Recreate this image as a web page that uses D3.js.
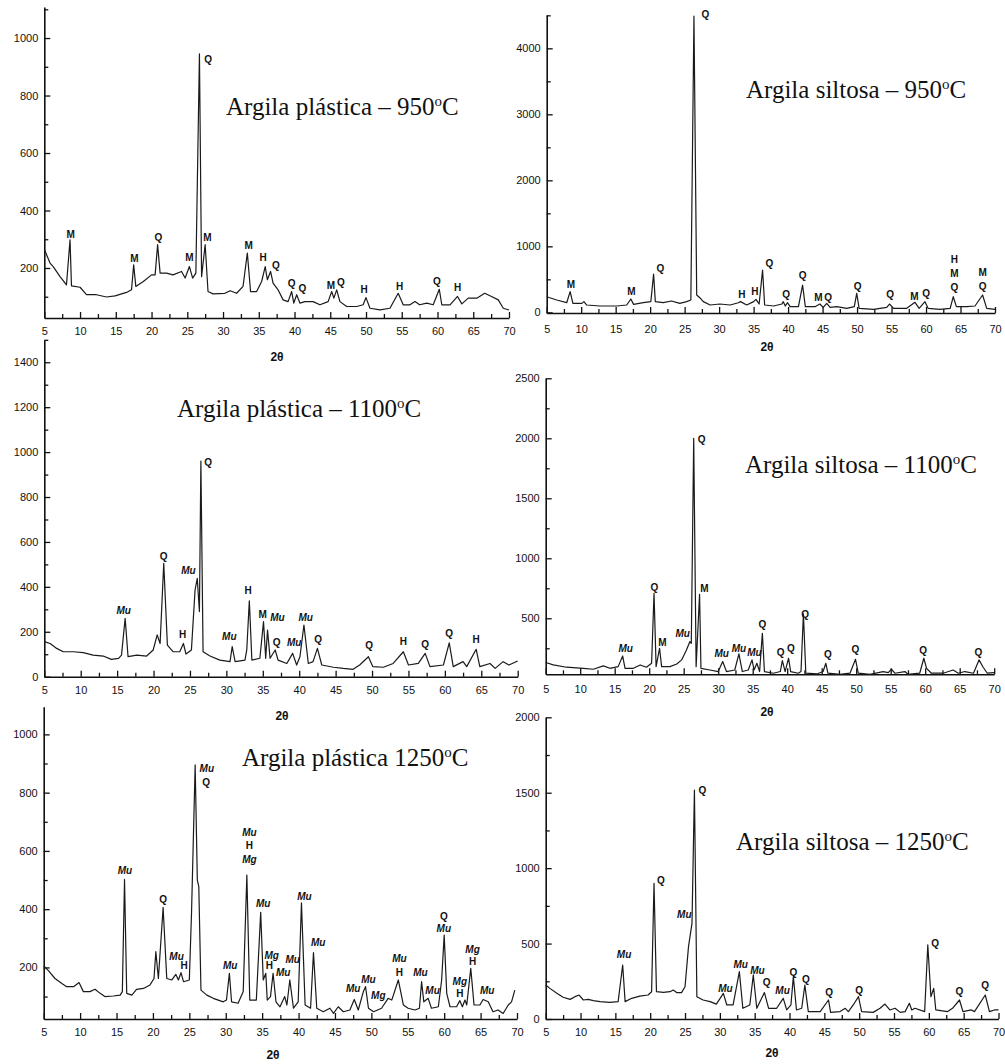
<!DOCTYPE html>
<html>
<head>
<script src="https://d3js.org/d3.v7.min.js"></script>
<style>
body { margin: 0; background: #fff; }
svg { display: block; }
.tick text { font-family: "Liberation Sans", Arial, sans-serif; font-size: 11px; fill: #111; }
.domain, .tick line { stroke: #111; }
</style>
</head>
<body>
<svg id="svg" width="1005" height="1064"></svg>
<script>
// diffractograms: [2theta, intensity]
const ap950 = [[5.0,265],[5.8,217],[6.25,205],[7.2,170],[8.1,141],[8.6,298],[8.8,138],[10.0,133],[10.9,107],[12.3,107],[13.7,99],[14.9,103],[16.5,115],[17.2,124],[17.5,211],[17.8,136],[18.85,153],[20.0,176],[20.5,176],[20.85,281],[21.2,182],[22.1,182],[23.0,176],[24.2,188],[24.7,165],[25.3,205],[25.75,165],[26.2,182],[26.7,945],[27.0,170],[27.5,281],[27.9,118],[28.6,110],[30.25,112],[31.0,121],[31.9,112],[32.8,136],[33.4,252],[33.85,118],[34.7,118],[35.4,153],[35.9,205],[36.2,159],[36.65,188],[37.0,147],[37.7,124],[38.4,89],[39.1,83],[39.6,118],[39.9,78],[40.3,107],[40.75,78],[41.45,83],[42.6,83],[43.55,72],[44.7,83],[45.2,118],[45.5,95],[45.9,124],[46.35,83],[47.3,66],[48.7,66],[49.6,72],[50.0,97],[50.55,60],[51.95,54],[53.35,60],[54.5,112],[55.2,72],[56.15,72],[56.85,83],[57.5,72],[58.5,78],[59.4,72],[60.25,126],[60.6,72],[61.75,72],[62.8,101],[63.4,75],[64.3,95],[65.5,95],[66.6,112],[67.55,101],[68.5,89],[69.2,60],[70.0,54]];
const ap950Labels = [[8.7,315,"M"],[17.6,232,"M"],[20.95,307,"Q"],[25.3,236,"M"],[27.9,926,"Q"],[27.8,307,"M"],[33.6,278,"M"],[35.6,236,"H"],[37.4,209,"Q"],[39.6,145,"Q"],[41.1,130,"Q"],[45.1,139,"M"],[46.5,151,"Q"],[49.75,126,"H"],[54.7,136,"H"],[59.9,153,"Q"],[62.8,133,"H"]];

const as950 = [[5.0,237],[6.45,187],[7.9,146],[8.4,313],[8.8,136],[10.1,136],[10.4,162],[10.8,111],[12.7,96],[15.15,96],[16.6,111],[17.2,202],[17.6,121],[19.0,146],[20.1,162],[20.5,581],[20.75,162],[21.9,146],[23.1,172],[24.3,136],[25.3,162],[25.9,187],[26.35,4490],[26.75,263],[27.2,222],[27.7,162],[28.7,111],[30.1,126],[31.6,111],[32.8,146],[33.1,162],[34.0,111],[35.0,162],[35.35,197],[35.8,126],[36.3,641],[36.6,111],[37.9,96],[39.1,126],[39.3,162],[39.6,96],[39.9,146],[40.3,86],[41.5,86],[42.1,414],[42.5,86],[43.9,86],[44.6,126],[45.1,76],[45.6,136],[46.1,76],[47.05,86],[48.5,61],[49.6,86],[49.95,288],[50.3,61],[52.4,45],[54.3,76],[54.7,126],[55.3,61],[57.2,61],[58.4,152],[59.0,61],[59.85,162],[60.3,61],[62.0,45],[63.5,61],[63.95,237],[64.4,86],[65.9,86],[67.1,96],[68.2,263],[68.8,61],[70.0,45]];
const as950Labels = [[8.5,429,"M"],[17.3,323,"M"],[21.5,667,"Q"],[28.0,4520,"Q"],[33.3,263,"H"],[35.2,313,"H"],[37.3,742,"Q"],[39.7,263,"Q"],[42.1,551,"Q"],[44.4,227,"M"],[45.8,227,"Q"],[50.1,399,"Q"],[54.8,263,"Q"],[58.3,247,"M"],[60.0,288,"Q"],[64.1,803,"H"],[64.1,581,"M"],[64.1,379,"Q"],[68.2,601,"M"],[68.2,389,"Q"]];

const ap1100 = [[5.0,156],[5.8,148],[6.7,126],[7.6,111],[9.0,111],[10.35,107],[11.7,96],[13.1,92],[14.2,77],[15.2,82],[15.6,96],[16.1,260],[16.5,89],[17.7,96],[19.05,92],[19.95,119],[20.5,186],[20.9,148],[21.4,505],[21.9,141],[22.7,111],[23.6,111],[24.1,148],[24.45,101],[25.2,119],[25.7,386],[26.0,438],[26.3,290],[26.5,960],[26.8,111],[27.75,92],[29.1,74],[30.5,67],[30.8,134],[31.2,67],[32.55,74],[32.8,119],[33.15,338],[33.5,74],[34.6,82],[35.1,245],[35.4,82],[35.65,208],[36.0,82],[36.7,119],[37.1,74],[38.3,59],[39.1,104],[39.65,52],[40.1,89],[40.65,230],[41.25,59],[41.9,67],[42.5,126],[43.1,52],[44.7,42],[46.05,37],[47.4,33],[48.3,52],[49.5,89],[50.1,45],[51.55,42],[52.9,59],[54.3,111],[55.0,52],[56.35,59],[57.3,104],[57.95,45],[59.8,52],[60.6,151],[61.15,45],[62.5,67],[63.0,45],[64.3,122],[64.8,45],[66.2,59],[66.9,37],[68.0,67],[68.8,52],[70.0,70]];
const ap1100Labels = [[15.9,294,"Mu"],[21.4,537,"Q"],[24.0,186,"H"],[24.8,475,"Mu"],[27.5,953,"Q"],[30.4,181,"Mu"],[33.0,386,"H"],[35.0,275,"M"],[37.0,264,"Mu"],[36.9,151,"Q"],[39.3,151,"Mu"],[40.9,264,"Mu"],[42.6,166,"Q"],[49.6,141,"Q"],[54.3,156,"H"],[57.3,144,"Q"],[60.6,193,"Q"],[64.3,166,"H"]];

const as1100 = [[5.0,131],[6.1,111],[8.0,92],[10.45,83],[11.9,75],[13.35,103],[14.3,83],[15.5,97],[16.15,186],[16.5,83],[17.7,83],[18.7,111],[19.6,92],[20.35,125],[20.7,708],[21.0,97],[21.5,250],[21.8,97],[23.0,97],[24.0,119],[24.7,153],[25.4,236],[25.9,306],[26.1,290],[26.45,2000],[26.8,97],[27.3,700],[27.5,83],[28.8,69],[30.0,56],[30.65,139],[31.2,56],[32.4,69],[33.0,203],[33.5,56],[34.35,69],[34.9,153],[35.2,69],[35.6,125],[36.0,56],[36.4,375],[36.7,56],[38.0,42],[39.0,56],[39.3,147],[39.7,56],[40.2,167],[40.5,56],[41.6,42],[42.0,56],[42.35,536],[42.7,42],[44.3,36],[45.2,56],[45.6,125],[45.9,42],[47.65,33],[49.1,42],[49.9,158],[50.3,42],[52.0,33],[53.9,56],[54.65,47],[55.1,75],[55.6,42],[57.05,56],[57.5,33],[59.2,42],[59.8,167],[60.2,83],[60.9,42],[62.6,42],[64.05,69],[64.8,42],[65.75,56],[67.0,42],[67.8,153],[68.4,92],[69.0,42],[70.0,47]];
const as1100Labels = [[16.6,250,"Mu"],[20.75,758,"Q"],[21.9,300,"M"],[24.85,369,"Mu"],[27.6,1992,"Q"],[28.0,750,"M"],[30.5,203,"Mu"],[33.0,250,"Mu"],[35.25,214,"Mu"],[36.4,444,"Q"],[39.05,214,"Q"],[40.55,250,"Q"],[42.6,528,"Q"],[45.9,194,"Q"],[49.9,236,"Q"],[59.7,230,"Q"],[67.7,217,"Q"]];

const ap1250 = [[5.0,205],[5.65,189],[6.55,162],[7.5,145],[8.15,134],[9.1,134],[9.85,148],[10.45,117],[11.35,117],[12.05,125],[12.75,111],[13.4,100],[14.55,102],[15.5,105],[15.8,117],[16.1,502],[16.4,111],[17.1,105],[17.75,125],[18.7,128],[19.6,140],[20.15,162],[20.4,254],[20.75,162],[21.4,406],[21.9,162],[22.6,157],[23.15,176],[23.5,157],[23.85,182],[24.2,151],[25.0,157],[25.3,386],[25.8,895],[26.1,500],[26.3,477],[26.6,122],[27.4,105],[28.3,94],[29.65,82],[30.1,88],[30.5,180],[30.8,82],[31.7,77],[32.4,117],[32.9,517],[33.3,88],[34.2,88],[34.8,389],[35.15,157],[35.5,180],[35.7,88],[36.15,100],[36.5,180],[36.9,82],[37.45,65],[38.1,100],[38.4,71],[38.8,157],[39.3,60],[39.95,82],[40.4,422],[40.9,71],[41.65,60],[42.05,251],[42.5,60],[43.4,48],[44.3,60],[44.8,42],[45.45,65],[46.15,48],[47.05,54],[47.65,90],[48.2,54],[48.9,117],[49.2,134],[49.6,60],[50.3,48],[51.4,60],[52.3,94],[52.8,88],[53.7,157],[54.4,71],[55.05,60],[56.0,54],[56.6,60],[56.9,151],[57.2,82],[57.8,94],[58.25,60],[59.2,65],[59.65,157],[60.0,311],[60.35,111],[60.8,65],[61.7,65],[62.15,86],[62.5,65],[62.85,88],[63.1,71],[63.65,197],[64.1,71],[64.9,71],[65.35,90],[66.05,82],[66.7,48],[67.4,54],[68.1,42],[68.8,71],[69.25,82],[69.7,122]];
const ap1250Labels = [[16.15,534,"Mu"],[21.4,434,"Q"],[23.25,237,"Mu"],[24.3,205,"H"],[27.4,883,"Mu"],[27.3,834,"Q"],[33.25,664,"Mu"],[33.25,618,"H"],[33.25,569,"Mg"],[35.15,420,"Mu"],[30.6,206,"Mu"],[36.3,240,"Mg"],[36.0,205,"H"],[37.9,182,"Mu"],[39.2,227,"Mu"],[40.8,445,"Mu"],[42.7,286,"Mu"],[47.5,128,"Mu"],[49.6,159,"Mu"],[50.95,105,"Mg"],[53.85,229,"Mu"],[53.85,183,"H"],[56.75,183,"Mu"],[58.4,122,"Mu"],[59.95,376,"Q"],[59.95,334,"Mu"],[62.15,151,"Mg"],[62.15,111,"H"],[63.9,263,"Mg"],[63.9,220,"H"],[65.9,122,"Mu"]];

const as1250 = [[5.0,225],[5.6,203],[6.6,170],[7.5,144],[8.5,130],[9.2,148],[9.8,159],[10.4,126],[11.1,130],[11.85,122],[12.8,115],[14.2,110],[15.4,115],[16.05,358],[16.4,115],[17.35,137],[18.5,152],[19.7,159],[20.2,181],[20.55,899],[20.9,181],[21.9,177],[22.85,181],[23.3,192],[23.8,175],[24.5,175],[25.0,214],[25.5,480],[26.0,634],[26.35,1518],[26.7,148],[27.6,126],[28.6,115],[29.5,99],[30.5,170],[31.0,93],[31.9,93],[32.8,314],[33.3,71],[34.3,93],[34.8,292],[35.3,71],[36.4,175],[37.0,71],[38.15,71],[39.1,137],[39.6,60],[40.2,93],[40.55,281],[41.0,60],[41.75,71],[42.2,225],[42.7,49],[44.4,49],[45.6,126],[45.9,44],[47.25,49],[48.0,71],[48.45,49],[49.15,93],[49.9,148],[50.35,49],[52.0,44],[53.0,71],[53.7,99],[54.4,60],[55.15,71],[55.9,44],[56.6,49],[57.2,104],[57.55,60],[58.0,71],[59.4,49],[59.85,491],[60.3,148],[60.7,203],[61.0,60],[62.7,49],[63.4,71],[64.4,126],[64.9,49],[66.1,60],[66.55,49],[68.1,159],[68.7,49],[69.4,60],[70.0,60]];
const as1250Labels = [[16.25,429,"Mu"],[21.55,915,"Q"],[24.9,694,"Mu"],[27.5,1512,"Q"],[30.8,203,"Mu"],[33.0,362,"Mu"],[35.4,320,"Mu"],[36.7,243,"Q"],[39.0,192,"Mu"],[40.55,309,"Q"],[42.35,263,"Q"],[45.7,175,"Q"],[50.0,192,"Q"],[60.9,502,"Q"],[64.4,181,"Q"],[68.1,221,"Q"]];

// axis ticks
const xTicks = d3.range(5, 71, 5);
const xMinor = d3.range(7.5, 70, 5);
const yTicks1000 = [200, 400, 600, 800, 1000];
const yMinor1000 = [100, 300, 500, 700, 900, 1100];
const yTicks1400 = [0, 200, 400, 600, 800, 1000, 1200, 1400];
const yMinor1400 = [100, 300, 500, 700, 900, 1100, 1300, 1500];
const yTicks4000 = [0, 1000, 2000, 3000, 4000];
const yMinor4000 = [500, 1500, 2500, 3500, 4500];
const yTicks2500 = [500, 1000, 1500, 2000, 2500];
const yMinor2500 = [250, 750, 1250, 1750, 2250];
const yTicks2000 = [0, 500, 1000, 1500, 2000];
const yMinor2000 = [250, 750, 1250, 1750];

const titles = [
  ["Argila plástica – 950", "C"],
  ["Argila siltosa – 950", "C"],
  ["Argila plástica – 1100", "C"],
  ["Argila siltosa – 1100", "C"],
  ["Argila plástica 1250", "C"],
  ["Argila siltosa – 1250", "C"]
];

// panel placement (pixels)
const panels = [
  {data: ap950, labels: ap950Labels, title: titles[0], x0: 44.3, x1: 509, yDom: [26, 1108], yRange: [318, 7], ticks: yTicks1000, minor: yMinor1000, tx: 226, ty: 115, lx: 277, ly: 361, tickPad: 9},
  {data: as950, labels: as950Labels, title: titles[1], x0: 546.7, x1: 995, yDom: [-10, 4505], yRange: [313, 15], ticks: yTicks4000, minor: yMinor4000, tx: 746, ty: 98, lx: 767, ly: 351, tickPad: 12},
  {data: ap1100, labels: ap1100Labels, title: titles[2], x0: 44.3, x1: 517.7, yDom: [0, 1500], yRange: [676.7, 339.8], ticks: yTicks1400, minor: yMinor1400, tx: 177, ty: 417, lx: 282, ly: 720, tickPad: 10},
  {data: as1100, labels: as1100Labels, title: titles[3], x0: 545.7, x1: 994.2, yDom: [33, 2500], yRange: [674.3, 378.3], ticks: yTicks2500, minor: yMinor2500, tx: 745, ty: 473, lx: 767, ly: 716, tickPad: 11},
  {data: ap1250, labels: ap1250Labels, title: titles[4], x0: 43.7, x1: 517, yDom: [23, 1095], yRange: [1019, 706.7], ticks: yTicks1000, minor: yMinor1000, tx: 242, ty: 766, lx: 273, ly: 1059, tickPad: 9},
  {data: as1250, labels: as1250Labels, title: titles[5], x0: 545.7, x1: 998.5, yDom: [0, 2000], yRange: [1019, 717.3], ticks: yTicks2000, minor: yMinor2000, tx: 736, ty: 850, lx: 772, ly: 1057, tickPad: 9}
];

const svg = d3.select("#svg");

panels.forEach(p => {
  const x = d3.scaleLinear().domain([5, 70]).range([p.x0, p.x1]);
  const y = d3.scaleLinear().domain(p.yDom).range(p.yRange);
  const g = svg.append("g");
  const base = p.yRange[0];

  // minor ticks
  g.append("g").attr("transform", `translate(0,${base})`)
    .call(d3.axisBottom(x).tickValues(xMinor).tickSize(-4).tickSizeOuter(0).tickFormat(""))
    .call(a => a.select(".domain").remove());
  g.append("g").attr("transform", `translate(${p.x0},0)`)
    .call(d3.axisLeft(y).tickValues(p.minor.filter(v => v <= p.yDom[1])).tickSize(-4).tickSizeOuter(0).tickFormat(""))
    .call(a => a.select(".domain").remove());

  // main axes
  g.append("g").attr("transform", `translate(0,${base})`)
    .call(d3.axisBottom(x).tickValues(xTicks).tickSize(-6).tickSizeOuter(0).tickPadding(p.tickPad).tickFormat(d3.format("d")))
    .call(a => a.select(".domain").attr("stroke-width", 1.6));
  g.append("g").attr("transform", `translate(${p.x0},0)`)
    .call(d3.axisLeft(y).tickValues(p.ticks).tickSize(-6).tickSizeOuter(0).tickPadding(6).tickFormat(d3.format("d")))
    .call(a => a.select(".domain").attr("stroke-width", 1.6));
  g.selectAll(".tick line").attr("stroke-width", 1.3);

  // trace
  g.append("path")
    .datum(p.data)
    .attr("fill", "none")
    .attr("stroke", "#1a1a1a")
    .attr("stroke-width", 1.2)
    .attr("stroke-linejoin", "round")
    .attr("d", d3.line().x(d => x(d[0])).y(d => y(d[1])));

  // phase labels
  g.selectAll("text.lab")
    .data(p.labels)
    .enter().append("text")
    .attr("class", "lab")
    .attr("x", d => x(d[0]))
    .attr("y", d => y(d[1]))
    .attr("dy", "0.35em")
    .attr("text-anchor", "middle")
    .attr("font-family", "Liberation Sans, Arial, sans-serif")
    .attr("font-weight", "bold")
    .attr("font-style", d => (d[2] === "Mu" || d[2] === "Mg") ? "italic" : "normal")
    .attr("font-size", 10)
    .attr("fill", "#111")
    .text(d => d[2]);

  // title
  const t = g.append("text")
    .attr("x", p.tx).attr("y", p.ty)
    .attr("font-family", "Liberation Serif, Times New Roman, serif")
    .attr("font-size", 25)
    .attr("fill", "#111");
  t.append("tspan").text(p.title[0]);
  t.append("tspan").attr("dy", -9).attr("font-size", 15).text("o");
  t.append("tspan").attr("dy", 9).text(p.title[1]);

  // x label
  g.append("text")
    .attr("x", p.lx).attr("y", p.ly)
    .attr("text-anchor", "middle")
    .attr("font-family", "Liberation Sans, Arial, sans-serif")
    .attr("font-weight", "bold")
    .attr("font-size", 12)
    .attr("fill", "#111")
    .text("2θ");
});
</script>
</body>
</html>
